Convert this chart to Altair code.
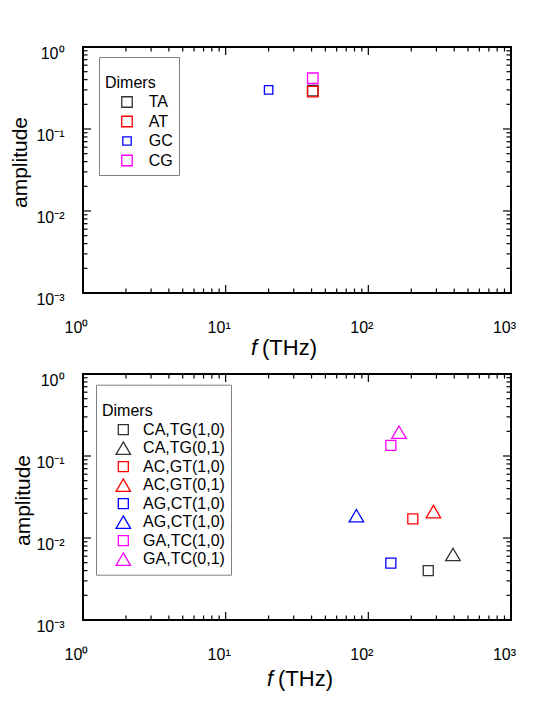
import altair as alt
import pandas as pd

# ---------------- data ----------------
X_DOMAIN = [1, 1000]
Y_DOMAIN = [0.001, 1]
x_major = [1, 10, 100, 1000]
x_labels = ["10⁰", "10¹", "10²", "10³"]
y_major = [0.001, 0.01, 0.1, 1]
y_labels = ["10⁻³", "10⁻²", "10⁻¹", "10⁰"]
minor_mult = [2, 3, 4, 5, 6, 7, 8, 9]
x_minor = [m * d for d in [1, 10, 100] for m in minor_mult]
y_minor = [m * d for d in [0.001, 0.01, 0.1] for m in minor_mult]

SQUARE = "M-1,-1H1V1H-1Z"
SMALL_SQUARE = "M-0.8,-0.8H0.8V0.8H-0.8Z"
TRIANGLE = "M0,-1.25L1.45,1.25L-1.45,1.25Z"

top_series = ["TA", "AT", "GC", "CG"]
top_f = [40.8, 40.8, 20.0, 40.8]
top_amp = [0.294, 0.286, 0.300, 0.416]
top_colors = ["#333333", "#ff0000", "#0000ff", "#ff00ff"]
top_shapes = [SQUARE, SQUARE, SMALL_SQUARE, SQUARE]

bot_series = ["CA,TG(1,0)", "CA,TG(0,1)", "AC,GT(1,0)", "AC,GT(0,1)",
              "AG,CT(1,0)", "AG,CT(1,0) ", "GA,TC(1,0)", "GA,TC(0,1)"]
bot_f = [263, 392, 205, 286, 143.8, 82.5, 143.8, 164]
bot_amp = [0.0040, 0.0063, 0.0171, 0.021, 0.00495, 0.0187, 0.135, 0.195]
bot_colors = ["#333333", "#333333", "#ff0000", "#ff0000",
              "#0000ff", "#0000ff", "#ff00ff", "#ff00ff"]
bot_shapes = [SQUARE, TRIANGLE] * 4

legend_title = "Dimers"
x_title_italic = "f"
x_title_rest = "(THz)"
y_title = "amplitude"

W, H = 428, 246
MAJ, MIN = 8, 4.5


def label_expr(vals, labels):
    return "".join(f"datum.value == {v} ? '{l}' : " for v, l in zip(vals, labels)) + "''"


def panel(series, fvals, amps, colors, shapes, msize, lx, ly,
          sym_off, lab_off, row_pad, fx, fdy, ytp, ytshift):
    xs = alt.Scale(type="log", domain=X_DOMAIN, nice=False)
    ys = alt.Scale(type="log", domain=Y_DOMAIN, nice=False)
    xaxis = alt.Axis(
        values=x_major, labelExpr=label_expr(x_major, x_labels),
        ticks=False, domain=False, grid=False, labelFontSize=16,
        labelPadding=26, labelOffset=-7, labelBaseline="top",
        labelColor="black", labelFlush=False, labelOverlap=False, title=None)
    yaxis = alt.Axis(
        values=y_major, labelExpr=label_expr(y_major, y_labels),
        ticks=False, domain=False, grid=False, labelFontSize=16,
        labelPadding=19, labelOffset=6, labelColor="black",
        labelFlush=False, labelOverlap=False,
        title=y_title, titleFontSize=21, titleFontWeight="normal",
        titleColor="black", titlePadding=ytp, titleY=H / 2 + ytshift)
    df = pd.DataFrame({"f": fvals, "amp": amps, "series": series})
    leg = alt.Legend(
        title=["", legend_title], orient="none", legendX=lx, legendY=ly,
        strokeColor="#808080", fillColor="white", padding=6,
        titleFontSize=16, titleFontWeight="normal", titleColor="black",
        titleLineHeight=12, titlePadding=3,
        labelFontSize=16, labelColor="black", rowPadding=row_pad,
        symbolOffset=sym_off, labelOffset=lab_off, symbolStrokeWidth=1.3,
        symbolSize=msize,
    )
    pts = alt.Chart(df).mark_point(filled=False, strokeWidth=1.3, opacity=1, size=msize).encode(
        x=alt.X("f:Q", scale=xs, axis=xaxis),
        y=alt.Y("amp:Q", scale=ys, axis=yaxis),
        color=alt.Color("series:N", scale=alt.Scale(domain=series, range=colors), legend=leg),
        shape=alt.Shape("series:N", scale=alt.Scale(domain=series, range=shapes), legend=leg),
    )

    def xr(vals, y0, y1):
        return alt.Chart(pd.DataFrame({"f": vals})).mark_rule(color="black", strokeWidth=1.2).encode(
            x=alt.X("f:Q", scale=xs, axis=xaxis), y=alt.value(y0), y2=alt.value(y1))

    def yr(vals, x0, x1):
        return alt.Chart(pd.DataFrame({"amp": vals})).mark_rule(color="black", strokeWidth=1.2).encode(
            y=alt.Y("amp:Q", scale=ys, axis=yaxis), x=alt.value(x0), x2=alt.value(x1))

    rules = [
        xr(x_major, H, H - MAJ), xr(x_minor, H, H - MIN),
        xr(x_major, 0, MAJ), xr(x_minor, 0, MIN),
        yr(y_major, 0, MAJ), yr(y_minor, 0, MIN),
        yr(y_major, W, W - MAJ), yr(y_minor, W, W - MIN),
    ]
    ft = alt.Chart(pd.DataFrame({"t": [x_title_italic]})).mark_text(
        fontStyle="italic", fontSize=22, align="right", baseline="alphabetic", color="black"
    ).encode(text="t:N", x=alt.value(fx), y=alt.value(H + fdy))
    ut = alt.Chart(pd.DataFrame({"t": [x_title_rest]})).mark_text(
        fontSize=22, align="left", baseline="alphabetic", color="black"
    ).encode(text="t:N", x=alt.value(fx + 5), y=alt.value(H + fdy))
    return alt.layer(pts, *rules, ft, ut).properties(width=W, height=H)


top = panel(top_series, top_f, top_amp, top_colors, top_shapes, 110,
            16, 10, 14, 13.7, 3.5, 174, 62, 5, -8)
bot = panel(bot_series, bot_f, bot_amp, bot_colors, bot_shapes, 100,
            13, 10.7, 13.3, 11.8, 1.5, 190, 66, 2, 3)

chart = alt.concat(top, bot, columns=1, spacing=11, align="none").resolve_scale(
    color="independent", shape="independent"
).resolve_legend(
    color="independent", shape="independent"
).properties(
    padding={"left": 0, "top": 36, "right": 5, "bottom": 5}
).configure(font="Liberation Sans").configure_view(stroke="black", strokeWidth=2)

chart.save("out.html", embed_options={"renderer": "svg", "actions": False})
